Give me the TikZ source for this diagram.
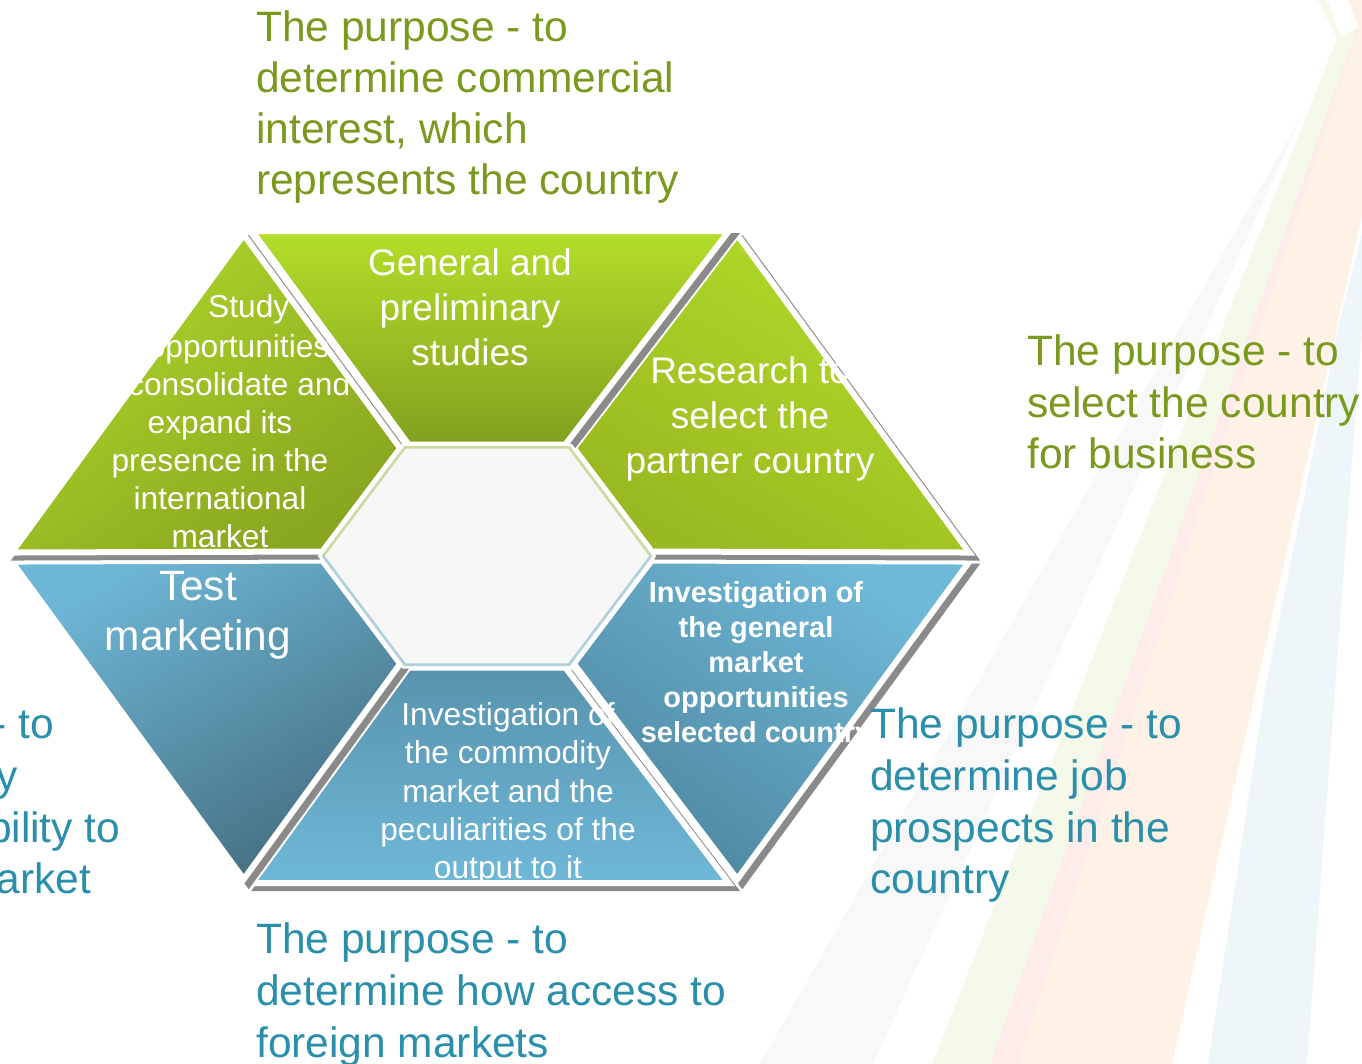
\documentclass[tikz,border=0pt]{standalone}
\usepackage{fontspec}
\setmainfont{Liberation Sans}
\usetikzlibrary{calc}

% palette
\definecolor{shadowgray}{HTML}{8A8A8A}
\definecolor{hexfill}{HTML}{F7F7F7}
\definecolor{hexgreen}{HTML}{C9DB9E}
\definecolor{hexblue}{HTML}{AFCFDC}
\definecolor{textgreen}{HTML}{7A9A1F}
\definecolor{textteal}{HTML}{2A8FAA}
\definecolor{stripegray}{HTML}{F8F8F8}
\definecolor{stripegreen}{HTML}{F4F9EA}
\definecolor{stripepink}{HTML}{FDECEA}
\definecolor{stripepeach}{HTML}{FEF2E7}
\definecolor{stripeblue}{HTML}{EEF6F9}
\definecolor{limeA}{HTML}{B4DE2A}
\definecolor{limeB}{HTML}{83A01F}
\definecolor{limeC}{HTML}{AFD62A}
\definecolor{limeD}{HTML}{88A620}
\definecolor{limeE}{HTML}{B3DB29}
\definecolor{limeF}{HTML}{98B821}
\definecolor{skyA}{HTML}{6DB6D5}
\definecolor{skyB}{HTML}{456E80}
\definecolor{skyC}{HTML}{5893AD}
\definecolor{skyD}{HTML}{6FB8D8}
\definecolor{skyE}{HTML}{6FB9D8}
\definecolor{skyF}{HTML}{4E87A0}

\newcommand\gapw{4.5pt}

% offset copy of the edge #1--#2, moved #3 to its right (the piece interior)
\newcommand\edgeoff[4]{%
  \coordinate (#4a) at ($(#1)!#3!-90:(#2)$);
  \coordinate (#4b) at ($(#2)!#3!90:(#1)$);
}

% piece between outer edge #2--#3 and inner edge #4--#5, pulled back from the two radial cuts
\newcommand\makepiece[5]{%
  \edgeoff{#2}{#3}{0pt}{#1e1}
  \edgeoff{#3}{#4}{\gapw}{#1e2}
  \edgeoff{#4}{#5}{0pt}{#1e3}
  \edgeoff{#5}{#2}{\gapw}{#1e4}
  \coordinate (#1-1) at (intersection of #1e4a--#1e4b and #1e1a--#1e1b);
  \coordinate (#1-2) at (intersection of #1e1a--#1e1b and #1e2a--#1e2b);
  \coordinate (#1-3) at (intersection of #1e2a--#1e2b and #1e3a--#1e3b);
  \coordinate (#1-4) at (intersection of #1e3a--#1e3b and #1e4a--#1e4b);
}

% drop shadow, then the shaded piece with its white rim
\newcommand\drawpiece[2]{%
  \filldraw[dropshadow] ($(#1-1)+(5,5)$) -- ($(#1-2)+(5,5)$) -- ($(#1-3)+(5,5)$) -- ($(#1-4)+(5,5)$) -- cycle;
  \path[piece,#2] (#1-1) -- (#1-2) -- (#1-3) -- (#1-4) -- cycle;
}

\begin{document}
\begin{tikzpicture}[x=1pt,y=-1pt,
  piece/.style={draw=white, line width=6pt, line join=miter},
  dropshadow/.style={fill=shadowgray, draw=shadowgray, line width=6pt, line join=miter},
  intext/.style={text=white, inner sep=0pt, anchor=base},
  smalltext/.style={intext, font=\fontsize{31.7}{38}\selectfont},
  midtext/.style={intext, font=\fontsize{37}{44}\selectfont},
  boldtext/.style={intext, font=\fontsize{29}{35}\selectfont\bfseries},
  bigtext/.style={intext, font=\fontsize{42.4}{51}\selectfont},
  purposeg/.style={text=textgreen, inner sep=0pt, anchor=base west, font=\fontsize{42.5}{51}\selectfont},
  purposet/.style={text=textteal, inner sep=0pt, anchor=base west, font=\fontsize{42.5}{51}\selectfont},
  purposecut/.style={text=textteal, inner sep=0pt, anchor=base east, font=\fontsize{42.5}{51}\selectfont}]

\useasboundingbox (0,0) rectangle (1362,1064);
\clip (0,0) rectangle (1362,1064);
\fill[white] (0,0) rectangle (1362,1064);

% faint background rays
\fill[stripegray] (1303,113) -- (873,1064) -- (760,1064) -- cycle;
\fill[stripegreen] (1318,0) -- (1327,0) -- (1340,36) -- (1337,38) -- cycle;
\fill[stripegreen] (1337,38) -- (1357,28) -- (990,1064) -- (932,1064) -- cycle;
\fill[stripepink] (1357,28) -- (1359,28) -- (1018,1064) -- (990,1064) -- cycle;
\fill[stripepeach] (1348,0) -- (1410,0) -- (1172,1064) -- (1018,1064) -- (1359,28) -- cycle;
\fill[stripeblue] (1362,233) -- (1369,233) -- (1307,1064) -- (1208,1064) -- (1265,690) -- (1340,320) -- cycle;

% outer and inner hexagon corners
\coordinate (O1) at (246.5,231);
\coordinate (O2) at (734.5,231);
\coordinate (O3) at (972.5,557);
\coordinate (O4) at (734.5,883);
\coordinate (O5) at (246.5,883);
\coordinate (O6) at (8.5,557);
\coordinate (I1) at (403,444.5);
\coordinate (I2) at (571,444.5);
\coordinate (I3) at (655,556);
\coordinate (I4) at (571,667.5);
\coordinate (I5) at (403,667.5);
\coordinate (I6) at (319,556);
\coordinate (IC) at (487,556);

\makepiece{Ptop}{O1}{O2}{I2}{I1}
\makepiece{Ptr}{O2}{O3}{I3}{I2}
\makepiece{Pbr}{O3}{O4}{I4}{I3}
\makepiece{Pbot}{O4}{O5}{I5}{I4}
\makepiece{Pbl}{O5}{O6}{I6}{I5}
\makepiece{Ptl}{O6}{O1}{I1}{I6}

\drawpiece{Pbr}{top color=skyE, bottom color=skyF, shading angle=-35}
\drawpiece{Pbot}{top color=skyC, bottom color=skyD}
\drawpiece{Pbl}{top color=skyA, bottom color=skyB, shading angle=30}
\drawpiece{Ptr}{top color=limeE, bottom color=limeF, shading angle=-30}
\drawpiece{Ptop}{top color=limeA, bottom color=limeB}
\drawpiece{Ptl}{top color=limeC, bottom color=limeD, shading angle=35}

% centre hexagon
\filldraw[fill=hexfill, draw=white, line width=2pt] (I1) -- (I2) -- (I3) -- (I4) -- (I5) -- (I6) -- cycle;
\foreach \k in {1,...,6} \coordinate (J\k) at ($(IC)!0.975!(I\k)$);
\draw[hexgreen, line width=2.5pt] (J6) -- (J1) -- (J2) -- (J3);
\draw[hexblue, line width=2.5pt] (J3) -- (J4) -- (J5) -- (J6);

% texts inside the pieces
\node[midtext] (gen1) at (470,276) {General and};
\node[midtext] (gen2) at (470,321) {preliminary};
\node[midtext] (gen3) at (470,366) {studies};

\node[midtext] (res1) at (750,383) {Research to};
\node[midtext] (res2) at (750,428) {select the};
\node[midtext] (res3) at (750,473) {partner country};

\node[smalltext, anchor=base east] (stu1) at (289.5,318) {Study};
\node[smalltext, anchor=base east] (stu2) at (329.5,357) {opportunities};
\node[smalltext, anchor=base east] (stu3) at (350.5,395) {consolidate and};
\node[smalltext] (stu4) at (220,433) {expand its};
\node[smalltext] (stu5) at (220,471) {presence in the};
\node[smalltext] (stu6) at (220,509) {international};
\node[smalltext] (stu7) at (220,547) {market};

\node[bigtext] (tst1) at (198,600) {Test};
\node[bigtext] (tst2) at (198,650) {marketing};

\node[boldtext] (gm1) at (756,602) {Investigation of};
\node[boldtext] (gm2) at (756,637) {the general};
\node[boldtext] (gm3) at (756,672) {market};
\node[boldtext] (gm4) at (756,707) {opportunities};
\node[boldtext] (gm5) at (756,742) {selected country};

\node[smalltext] (cm1) at (508,725) {Investigation of};
\node[smalltext] (cm2) at (508,763) {the commodity};
\node[smalltext] (cm3) at (508,802) {market and the};
\node[smalltext] (cm4) at (508,840) {peculiarities of the};
\node[smalltext] (cm5) at (508,878) {output to it};

% purpose captions
\node[purposeg] (pt1) at (256,42) {The purpose - to};
\node[purposeg] (pt2) at (256,93) {determine commercial};
\node[purposeg] (pt3) at (256,144) {interest, which};
\node[purposeg] (pt4) at (256,195) {represents the country};

\node[purposeg] (pr1) at (1027,366) {The purpose - to};
\node[purposeg] (pr2) at (1027,417) {select the country};
\node[purposeg] (pr3) at (1027,468) {for business};

\node[purposet] (pj1) at (870,738) {The purpose - to};
\node[purposet] (pj2) at (870,790) {determine job};
\node[purposet] (pj3) at (870,842) {prospects in the};
\node[purposet] (pj4) at (870,893) {country};

\node[purposet] (pb1) at (256,953) {The purpose - to};
\node[purposet] (pb2) at (256,1005) {determine how access to};
\node[purposet] (pb3) at (256,1057) {foreign markets};

\node[purposecut] (pl1) at (54.6,738) {The purpose - to};
\node[purposecut] (pl2) at (18,790) {study};
\node[purposecut] (pl3) at (120.6,842) {company's ability to};
\node[purposecut] (pl4) at (91.3,893) {enter the market};

\end{tikzpicture}
\end{document}
